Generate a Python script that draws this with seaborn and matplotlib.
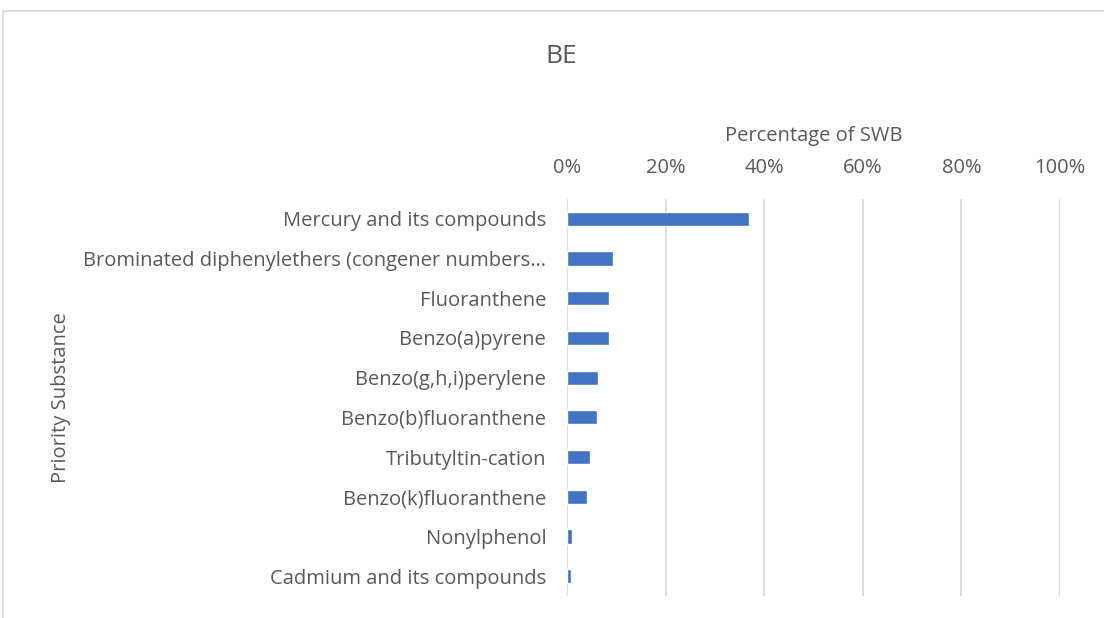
import matplotlib
matplotlib.use("Agg")
import matplotlib.pyplot as plt
import matplotlib.ticker as mticker
import pandas as pd
import seaborn as sns

# values (percentage of SWB)
substances = [
    "Mercury and its compounds",
    "Brominated diphenylethers (congener numbers…",
    "Fluoranthene",
    "Benzo(a)pyrene",
    "Benzo(g,h,i)perylene",
    "Benzo(b)fluoranthene",
    "Tributyltin-cation",
    "Benzo(k)fluoranthene",
    "Nonylphenol",
    "Cadmium and its compounds",
]
percentages = [36.9, 9.3, 8.5, 8.5, 6.2, 6.0, 4.7, 4.1, 1.0, 0.75]
x_ticks = [0, 20, 40, 60, 80, 100]

df = pd.DataFrame({"substance": substances, "pct": percentages})

sns.set_theme(style="white")
plt.rcParams["font.family"] = ["Open Sans", "DejaVu Sans"]

grey = "#595959"
fig = plt.figure(figsize=(11.04, 6.18), dpi=100)
ax = fig.add_axes([0.5136, 0.0356, 0.4466, 0.6424])

sns.barplot(data=df, x="pct", y="substance", orient="h", color="#4472C4",
            width=0.36, saturation=1, ax=ax, zorder=3)

ax.set_xlim(0, 100)
ax.set_xticks(x_ticks)
ax.xaxis.set_major_formatter(mticker.FuncFormatter(lambda v, p: f"{v:.0f}%"))
ax.xaxis.tick_top()
ax.xaxis.set_label_position("top")
ax.grid(axis="x", color="#D9D9D9", linewidth=1.3, zorder=0)
ax.tick_params(axis="both", length=0, labelsize=14.5, labelcolor=grey)
ax.tick_params(axis="x", pad=15)
ax.tick_params(axis="y", pad=15)
for s in ax.spines.values():
    s.set_visible(False)

ax.set_xlabel("Percentage of SWB", fontsize=14.5, color=grey, labelpad=12)
ax.set_ylabel("")
fig.text(0.055, 0.357, "Priority Substance", rotation=90, fontsize=14.5,
         color=grey, ha="center", va="center")
fig.text(0.508, 0.908, "BE", fontsize=19, color=grey, ha="center", va="center")

# light chart border (top and left edges visible in reference)
fig.add_artist(plt.Line2D([0.003, 1.0], [0.982, 0.982], color="#D9D9D9", linewidth=1.2))
fig.add_artist(plt.Line2D([0.003, 0.003], [0.0, 0.982], color="#D9D9D9", linewidth=1.2))

fig.savefig("out.png", dpi=100)
